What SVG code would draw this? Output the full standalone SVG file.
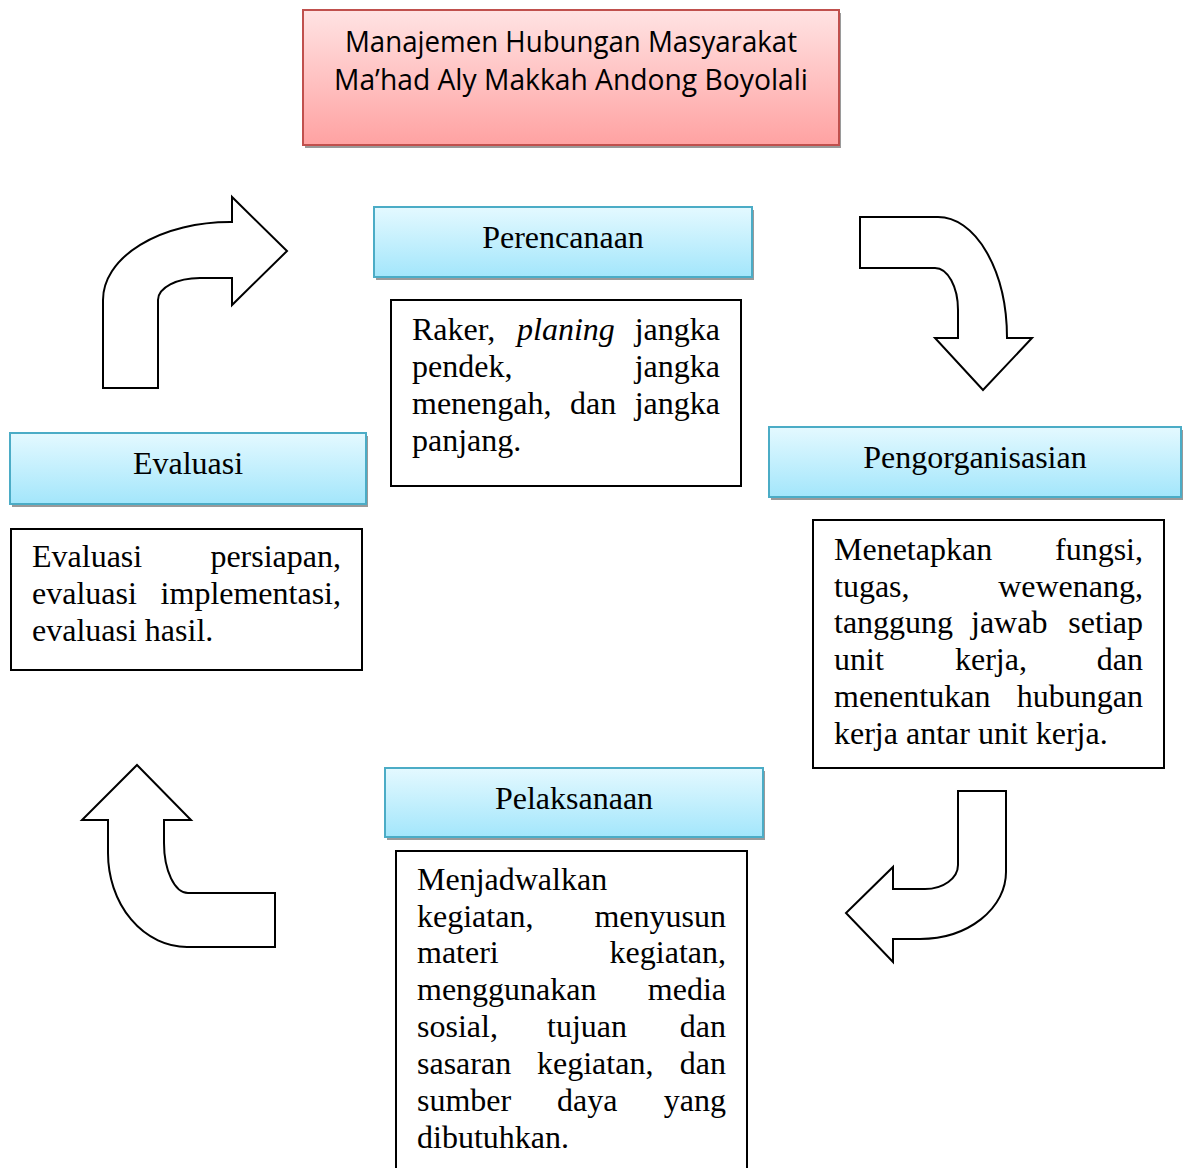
<svg xmlns="http://www.w3.org/2000/svg" width="1187" height="1168" viewBox="0 0 1187 1168">
<defs>
<linearGradient id="gRed" x1="0" y1="0" x2="0" y2="1">
<stop offset="0" stop-color="#ffe3e3"/>
<stop offset="1" stop-color="#ffa2a2"/>
</linearGradient>
<linearGradient id="gBlue" x1="0" y1="0" x2="0" y2="1">
<stop offset="0" stop-color="#e4f9ff"/>
<stop offset="1" stop-color="#a3e6fb"/>
</linearGradient>
</defs>
<style>
.shadow{fill:#9a9a9a}
.title{fill:url(#gRed);stroke:#c0504d;stroke-width:2}
.head{fill:url(#gBlue);stroke:#4bacc6;stroke-width:2}
.box{fill:#ffffff;stroke:#000000;stroke-width:2}
.arrow{fill:#ffffff;stroke:#000000;stroke-width:2;stroke-linejoin:miter}
.tt{font-family:"Open Sans","Noto Sans",sans-serif;font-size:29px;fill:#000;text-anchor:middle}
.ht{font-family:"Liberation Serif","Times New Roman",serif;font-size:32px;fill:#000;text-anchor:middle}
.bt{font-family:"Liberation Serif","Times New Roman",serif;font-size:32px;fill:#000}
.r{text-anchor:end}
</style>
<rect width="1187" height="1168" fill="#ffffff"/>

<g id="title">
<rect class="shadow" x="305" y="13" width="536" height="135"/>
<rect class="title" x="303" y="10" width="536" height="135"/>
<text class="tt" x="571" y="52" textLength="452" lengthAdjust="spacingAndGlyphs">Manajemen Hubungan Masyarakat</text>
<text class="tt" x="571" y="90" textLength="474" lengthAdjust="spacingAndGlyphs">Ma’had Aly Makkah Andong Boyolali</text>
</g>

<g id="perencanaan">
<rect class="shadow" x="376" y="210" width="378" height="70"/>
<rect class="head" x="374" y="207" width="378" height="70"/>
<text class="ht" x="563" y="248">Perencanaan</text>
</g>

<g id="perencanaan-detail">
<rect class="box" x="391" y="300" width="350" height="186"/>
<text class="bt" x="412" y="340">Raker,</text>
<text class="bt" x="517" y="340" font-style="italic">planing</text>
<text class="bt r" x="720" y="340">jangka</text>
<text class="bt" x="412" y="377">pendek,</text>
<text class="bt r" x="720" y="377">jangka</text>
<text class="bt" x="412" y="414">menengah,</text>
<text class="bt" x="570" y="414">dan</text>
<text class="bt r" x="720" y="414">jangka</text>
<text class="bt" x="412" y="451">panjang.</text>
</g>

<g id="pengorganisasian">
<rect class="shadow" x="771" y="430" width="412" height="70"/>
<rect class="head" x="769" y="427" width="412" height="70"/>
<text class="ht" x="975" y="468">Pengorganisasian</text>
</g>

<g id="pengorganisasian-detail">
<rect class="box" x="813" y="520" width="351" height="248"/>
<text class="bt" x="834" y="560">Menetapkan</text>
<text class="bt r" x="1143" y="560">fungsi,</text>
<text class="bt" x="834" y="597">tugas,</text>
<text class="bt r" x="1143" y="597">wewenang,</text>
<text class="bt" x="834" y="633">tanggung</text>
<text class="bt" x="971" y="633">jawab</text>
<text class="bt r" x="1143" y="633">setiap</text>
<text class="bt" x="834" y="670">unit</text>
<text class="bt" x="955" y="670">kerja,</text>
<text class="bt r" x="1143" y="670">dan</text>
<text class="bt" x="834" y="707">menentukan</text>
<text class="bt r" x="1143" y="707">hubungan</text>
<text class="bt" x="834" y="744">kerja antar unit kerja.</text>
</g>

<g id="pelaksanaan">
<rect class="shadow" x="387" y="771" width="378" height="69"/>
<rect class="head" x="385" y="768" width="378" height="69"/>
<text class="ht" x="574" y="809">Pelaksanaan</text>
</g>

<g id="pelaksanaan-detail">
<rect class="box" x="396" y="851" width="351" height="330"/>
<text class="bt" x="417" y="890">Menjadwalkan</text>
<text class="bt" x="417" y="927">kegiatan,</text>
<text class="bt r" x="726" y="927">menyusun</text>
<text class="bt" x="417" y="963">materi</text>
<text class="bt r" x="726" y="963">kegiatan,</text>
<text class="bt" x="417" y="1000">menggunakan</text>
<text class="bt r" x="726" y="1000">media</text>
<text class="bt" x="417" y="1037">sosial,</text>
<text class="bt" x="547" y="1037">tujuan</text>
<text class="bt r" x="726" y="1037">dan</text>
<text class="bt" x="417" y="1074">sasaran</text>
<text class="bt" x="537" y="1074">kegiatan,</text>
<text class="bt r" x="726" y="1074">dan</text>
<text class="bt" x="417" y="1111">sumber</text>
<text class="bt" x="557" y="1111">daya</text>
<text class="bt r" x="726" y="1111">yang</text>
<text class="bt" x="417" y="1148">dibutuhkan.</text>
</g>

<g id="evaluasi">
<rect class="shadow" x="12" y="436" width="356" height="71"/>
<rect class="head" x="10" y="433" width="356" height="71"/>
<text class="ht" x="188" y="474">Evaluasi</text>
</g>

<g id="evaluasi-detail">
<rect class="box" x="11" y="529" width="351" height="141"/>
<text class="bt" x="32" y="567">Evaluasi</text>
<text class="bt r" x="341" y="567">persiapan,</text>
<text class="bt" x="32" y="604">evaluasi</text>
<text class="bt r" x="341" y="604">implementasi,</text>
<text class="bt" x="32" y="641">evaluasi hasil.</text>
</g>

<g id="connectors">
<path class="arrow" d="M103,388 L103,300 A127,78 0 0 1 230,222 L232,222 L232,197 L287,251 L232,305 L232,278 L200,278 A42,22 0 0 0 158,300 L158,388 Z"/>
<path class="arrow" d="M860,217 L938,217 A69,121 0 0 1 1007,338 L1032,338 L983,390 L935,338 L958,338 L958,310 A23,42 0 0 0 935,268 L860,268 Z"/>
<path class="arrow" d="M958,791 L1006,791 L1006,872 A86,67 0 0 1 920,939 L893,939 L893,962 L846,913 L893,867 L893,889 L925,889 A33,24 0 0 0 958,865 Z"/>
<path class="arrow" d="M137,765 L191,820 L164,820 L164,843 A24,50 0 0 0 188,893 L275,893 L275,947 L187,947 A79,94 0 0 1 108,853 L108,820 L82,820 Z"/>
</g>
</svg>
